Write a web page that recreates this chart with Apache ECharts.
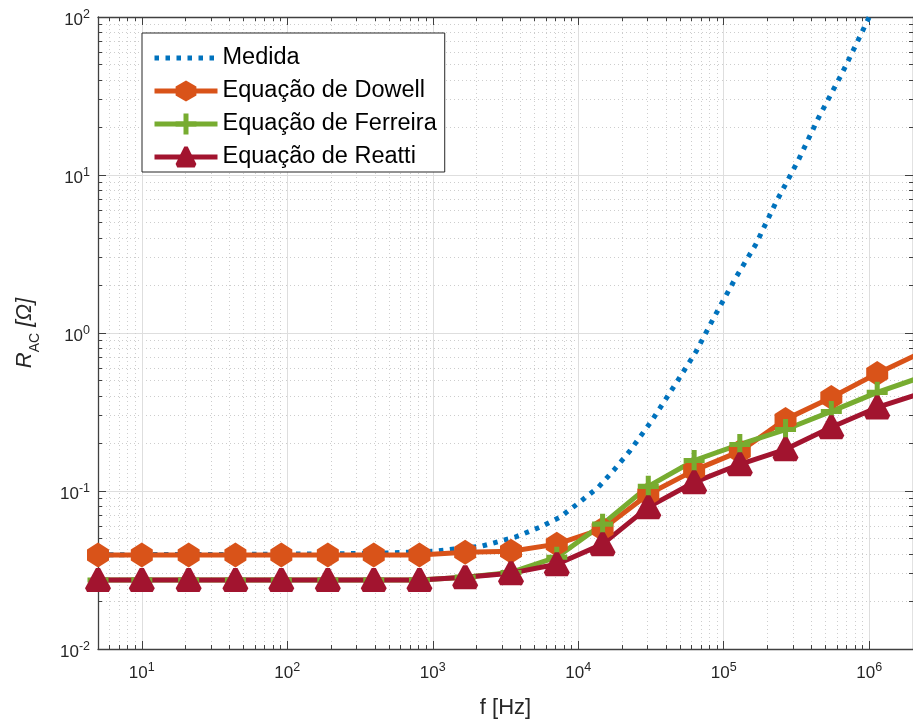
<!DOCTYPE html>
<html>
<head>
<meta charset="utf-8">
<script src="https://cdn.jsdelivr.net/npm/echarts@6/dist/echarts.min.js"></script>
<style>
  html, body { margin: 0; padding: 0; background: #ffffff; }
  #chart { width: 913px; height: 724px; }
</style>
</head>
<body>
<div id="chart"></div>
<script>
// Frequencies (Hz) of the model evaluation points
const freqModel = [5, 10, 21, 44, 91, 190, 393, 810, 1670, 3450, 7120, 14700,
                   30300, 62600, 129000, 266000, 549000, 1135000, 2340000];

// AC resistance (Ohm) from each analytic model
const dowell   = [0.0393, 0.0393, 0.0393, 0.0393, 0.0393, 0.0393, 0.0393, 0.0393, 0.0410, 0.0416,
                  0.0461, 0.0575, 0.0953, 0.135, 0.178, 0.284, 0.391, 0.555, 0.76];
const ferreira = [0.0273, 0.0273, 0.0273, 0.0273, 0.0273, 0.0273, 0.0273, 0.0273, 0.0285, 0.0305,
                  0.0381, 0.0617, 0.107, 0.156, 0.197, 0.245, 0.319, 0.421, 0.53];
const reatti   = [0.0273, 0.0273, 0.0273, 0.0273, 0.0273, 0.0273, 0.0273, 0.0273, 0.0285, 0.0302,
                  0.0344, 0.0461, 0.079, 0.1135, 0.1476, 0.1836, 0.253, 0.338, 0.42];

// Measured curve
const freqMeasured = [5, 50, 200, 500, 1040, 2180, 3670, 5450, 7460, 10230, 13800, 17740, 22500,
                      31800, 47900, 64600, 84300, 121000, 166000, 228000, 327000, 448000,
                      653000, 828000, 1000000];
const measured     = [0.0395, 0.0397, 0.0400, 0.0405, 0.0416, 0.0448, 0.051, 0.059, 0.068, 0.085,
                      0.106, 0.137, 0.178, 0.276, 0.494, 0.764, 1.22, 2.24, 3.63, 6.68, 12.5,
                      23.0, 44.3, 69.5, 100];

const seriesNames = ['Medida', 'Equação de Dowell', 'Equação de Ferreira', 'Equação de Reatti'];
const seriesColors = ['#0072BD', '#D95319', '#77AC30', '#A2142F'];

// Decade tick values
const xMajor = [10, 100, 1000, 10000, 100000, 1000000];
const yMajor = [0.01, 0.1, 1, 10, 100];
const xRange = [5, 2000000];
const yRange = [0.01, 100];

// Minor ticks at 2..9 times each decade
function minorTicks(lo, hi) {
  const out = [];
  for (let k = Math.floor(Math.log10(lo)); k <= Math.ceil(Math.log10(hi)); k++) {
    for (let d = 2; d <= 9; d++) {
      const v = d * Math.pow(10, k);
      if (v > lo * 1.0001 && v < hi * 0.9999) out.push(v);
    }
  }
  return out;
}
const xMinor = minorTicks(xRange[0], xRange[1]);
const yMinor = minorTicks(yRange[0], yRange[1]);

const FONT = '"Liberation Sans", Arial, Helvetica, sans-serif';
const AXIS_COLOR = '#404040';
const TEXT_COLOR = '#262626';

const LINE_W = 5;
const DOT_W = 5;
const DOT_DASH = [4.5, 6.5];

function powLabel(v) {
  const e = Math.round(Math.log10(v));
  return '{b|10}{s|' + e + '}';
}
const powRich = {
  b: { fontSize: 17, lineHeight: 20, color: TEXT_COLOR, fontFamily: FONT },
  s: { fontSize: 12.5, lineHeight: 14, padding: [0, 0, 10, 0], color: TEXT_COLOR, fontFamily: FONT }
};

const majorGrid = { show: true, lineStyle: { color: '#dedede', width: 1, type: 'solid' } };
const minorGrid = { show: true, lineStyle: { color: '#cdcdcd', width: 1, type: [1, 3] } };
const axisLine = { show: true, onZero: false, lineStyle: { color: AXIS_COLOR, width: 1.3 } };

function xAxisDef(position, ticks, len, withLabels, split, showLine) {
  return {
    type: 'log', logBase: 10, min: xRange[0], max: xRange[1], position: position,
    axisLine: showLine ? axisLine : { show: false },
    axisTick: { show: true, inside: true, length: len, customValues: ticks,
                lineStyle: { color: AXIS_COLOR, width: 1 } },
    axisLabel: withLabels ? {
      show: true, customValues: xMajor, formatter: powLabel, rich: powRich, margin: 14
    } : { show: false },
    splitLine: split ? split : { show: false },
    minorTick: { show: false }, minorSplitLine: { show: false }
  };
}
function yAxisDef(position, ticks, len, withLabels, split, showLine) {
  return {
    type: 'log', logBase: 10, min: yRange[0], max: yRange[1], position: position,
    axisLine: showLine ? axisLine : { show: false },
    axisTick: { show: true, inside: true, length: len, customValues: ticks,
                lineStyle: { color: AXIS_COLOR, width: 1 } },
    axisLabel: withLabels ? {
      show: true, customValues: yMajor, formatter: powLabel, rich: powRich, margin: 8,
      padding: [6, 0, 0, 0]
    } : { show: false },
    splitLine: split ? split : { show: false },
    minorTick: { show: false }, minorSplitLine: { show: false }
  };
}

const xAxes = [
  xAxisDef('bottom', xMajor, 8, true, majorGrid, true),
  xAxisDef('bottom', xMinor, 4, false, minorGrid, false),
  xAxisDef('top', xMajor, 8, false, null, true),
  xAxisDef('top', xMinor, 4, false, null, false)
];
Object.assign(xAxes[0], {
  name: 'f [Hz]', nameLocation: 'middle', nameGap: 48,
  nameTextStyle: { fontSize: 22, color: TEXT_COLOR, fontFamily: FONT }
});

const yAxes = [
  yAxisDef('left', yMajor, 8, true, majorGrid, true),
  yAxisDef('left', yMinor, 4, false, minorGrid, false),
  yAxisDef('right', yMajor, 8, false, null, true),
  yAxisDef('right', yMinor, 4, false, null, false)
];
Object.assign(yAxes[0], {
  name: '{r|R}{sub|AC}{r| [Ω]}', nameLocation: 'middle', nameRotate: 90, nameGap: 58,
  nameTextStyle: {
    rich: {
      r: { fontSize: 22, lineHeight: 24, padding: [0, 0, 6, 0], fontStyle: 'italic',
           color: TEXT_COLOR, fontFamily: FONT },
      sub: { fontSize: 14, lineHeight: 16, padding: [14, 0, 0, 0],
             color: TEXT_COLOR, fontFamily: FONT }
    }
  }
});

// Marker outlines
const hexagon  = 'path://M50,0 L100,28 L100,72 L50,100 L0,72 L0,28 Z';
const plus     = 'path://M38,0 L62,0 L62,38 L100,38 L100,62 L62,62 L62,100 L38,100 L38,62 L0,62 L0,38 L38,38 Z';
const triangle = 'path://M42,0 L58,0 L100,84 L92,100 L8,100 L0,84 Z';

function pairs(xs, ys) { return xs.map((x, i) => [x, ys[i]]); }

const modelSeries = [
  { name: seriesNames[1], values: dowell,   color: seriesColors[1], symbol: hexagon,  size: [22, 25] },
  { name: seriesNames[2], values: ferreira, color: seriesColors[2], symbol: plus,     size: [21, 21] },
  { name: seriesNames[3], values: reatti,   color: seriesColors[3], symbol: triangle, size: [26, 24] }
].map(s => ({
  name: s.name, type: 'line', xAxisIndex: 0, yAxisIndex: 0,
  data: pairs(freqModel, s.values),
  symbol: s.symbol, symbolSize: s.size, showSymbol: true,
  lineStyle: { color: s.color, width: LINE_W },
  itemStyle: { color: s.color, borderWidth: 0 },
  emphasis: { disabled: true },
  clip: true
}));

// Legend entries: a thick line with the marker; the measured entry is a dotted line only
const legendData = seriesNames.map((n, i) => i === 0
  ? { name: n, itemStyle: { opacity: 0 },
      lineStyle: { color: seriesColors[0], width: DOT_W, type: DOT_DASH, cap: 'butt' } }
  : { name: n, itemStyle: { color: seriesColors[i] },
      lineStyle: { color: seriesColors[i], width: LINE_W, type: 'solid' } });

const option = {
  backgroundColor: '#ffffff',
  animation: false,
  textStyle: { fontFamily: FONT },
  grid: { left: 98, top: 17, bottom: 74, right: -4, containLabel: false },
  xAxis: xAxes,
  yAxis: yAxes,
  legend: {
    orient: 'vertical', left: 142, top: 33,
    padding: [12, 8, 2, 10],
    itemWidth: 63, itemHeight: 26, itemGap: 7,
    backgroundColor: '#ffffff', borderColor: '#262626', borderWidth: 1,
    selectedMode: false,
    textStyle: { fontSize: 23.5, lineHeight: 26, color: '#000000', fontFamily: FONT },
    data: legendData
  },
  series: [
    {
      name: seriesNames[0], type: 'line', xAxisIndex: 0, yAxisIndex: 0,
      data: pairs(freqMeasured, measured),
      symbol: 'none', smooth: false,
      lineStyle: { color: seriesColors[0], width: DOT_W, type: DOT_DASH, cap: 'butt' },
      itemStyle: { color: seriesColors[0] },
      emphasis: { disabled: true },
      clip: true
    }
  ].concat(modelSeries)
};

const chart = echarts.init(document.getElementById('chart'), null, { renderer: 'canvas' });
chart.setOption(option);
</script>
</body>
</html>
